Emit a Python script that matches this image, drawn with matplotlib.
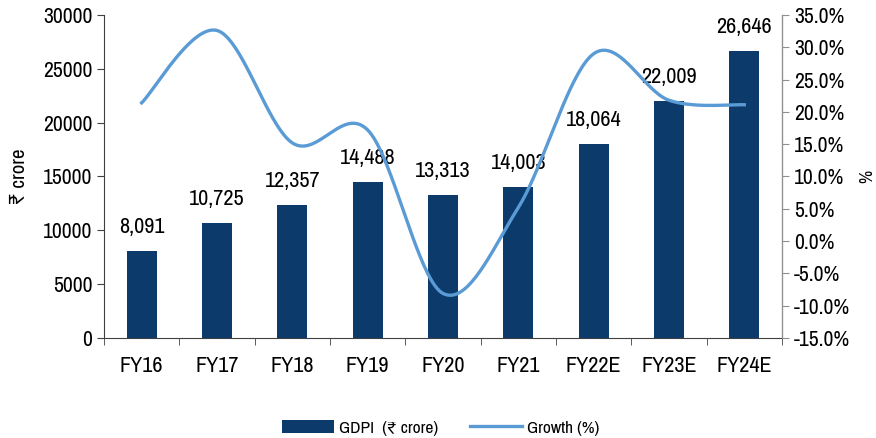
import numpy as np
import matplotlib.pyplot as plt
from matplotlib import font_manager
from matplotlib.lines import Line2D
from matplotlib.patches import Patch

years = ['FY16', 'FY17', 'FY18', 'FY19', 'FY20', 'FY21', 'FY22E', 'FY23E', 'FY24E']
gdpi = [8091, 10725, 12357, 14488, 13313, 14003, 18064, 22009, 26646]
growth = [21.4, 32.6, 15.2, 17.2, -8.1, 5.2, 29.0, 21.8, 21.1]

bar_color = '#0B3A6B'
line_color = '#5B9BD5'

# pick a narrow face if one is installed
names = sorted({f.name for f in font_manager.fontManager.ttflist})
narrow = [n for n in names if 'Narrow' in n or 'Condensed' in n]
plt.rcParams['font.family'] = narrow[:1] + ['DejaVu Sans']
if not narrow:
    plt.rcParams['font.stretch'] = 'condensed'


def smooth_line(xs, ys, n=40):
    # Excel-style smoothed line: cubic bezier through the points
    xs = np.asarray(xs, float)
    ys = np.asarray(ys, float)
    px = np.concatenate([[xs[0]], xs, [xs[-1]]])
    py = np.concatenate([[ys[0]], ys, [ys[-1]]])
    out_x, out_y = [], []
    t = np.linspace(0, 1, n)
    for i in range(1, len(px) - 2):
        p0 = np.array([px[i], py[i]])
        p3 = np.array([px[i + 1], py[i + 1]])
        c1 = p0 + (np.array([px[i + 1], py[i + 1]]) - np.array([px[i - 1], py[i - 1]])) / 6
        c2 = p3 - (np.array([px[i + 2], py[i + 2]]) - np.array([px[i], py[i]])) / 6
        b = ((1 - t) ** 3)[:, None] * p0 + (3 * (1 - t) ** 2 * t)[:, None] * c1 \
            + (3 * (1 - t) * t ** 2)[:, None] * c2 + (t ** 3)[:, None] * p3
        out_x.extend(b[:, 0])
        out_y.extend(b[:, 1])
    return out_x, out_y


fig = plt.figure(figsize=(8.76, 4.38), dpi=100)
ax = fig.add_axes([0.1187, 0.2283, 0.774, 0.7375])
ax2 = ax.twinx()

x = np.arange(len(years))
ax.bar(x, gdpi, width=0.4, color=bar_color, zorder=2)
for xi, v in zip(x, gdpi):
    ax.annotate(f'{v:,}', (xi, v), xytext=(0, 10), textcoords='offset points',
                ha='center', va='bottom', fontsize=16)

sx, sy = smooth_line(x, growth)
ax2.plot(sx, sy, color=line_color, linewidth=2.4, zorder=3)

ax.set_xlim(-0.5, len(years) - 0.5)
ax.set_ylim(0, 30000)
ax.set_yticks(range(0, 30001, 5000))
ax.tick_params(axis='y', labelsize=15.5, length=5, direction='out', color='#404040')
ax.set_xticks(x)
ax.set_xticklabels(years, fontsize=16)
ax.set_xticks(np.arange(-0.5, len(years)), minor=True)
ax.tick_params(axis='x', which='major', length=0, pad=13)
ax.tick_params(axis='x', which='minor', length=5, color='#404040')
ax.set_ylabel('₹ crore', fontsize=15, labelpad=10)

ax2.set_ylim(-15, 35)
ax2.set_yticks(np.arange(-15, 35.1, 5))
ax2.set_yticklabels([f'{v:.1f}%' for v in np.arange(-15, 35.1, 5)])
ax2.tick_params(axis='y', labelsize=15.5, length=5, color='#909090')
ax2.set_ylabel('%', fontsize=13, rotation=90, labelpad=7)

for a in (ax, ax2):
    a.spines['top'].set_visible(False)
ax.spines['left'].set_color('#404040')
ax.spines['bottom'].set_color('#404040')
ax2.spines['left'].set_visible(False)
ax2.spines['bottom'].set_visible(False)
ax2.spines['right'].set_color('#909090')

handles = [Patch(facecolor=bar_color, label='GDPI  (₹ crore)'),
           Line2D([0], [0], color=line_color, linewidth=2.4, label='Growth (%)')]
fig.legend(handles=handles, loc='lower center', bbox_to_anchor=(0.503, -0.03), ncol=2,
           frameon=False, fontsize=12.5, handlelength=3.0, handleheight=0.7,
           handletextpad=0.3, columnspacing=1.8)

fig.savefig('out.png', dpi=100)
